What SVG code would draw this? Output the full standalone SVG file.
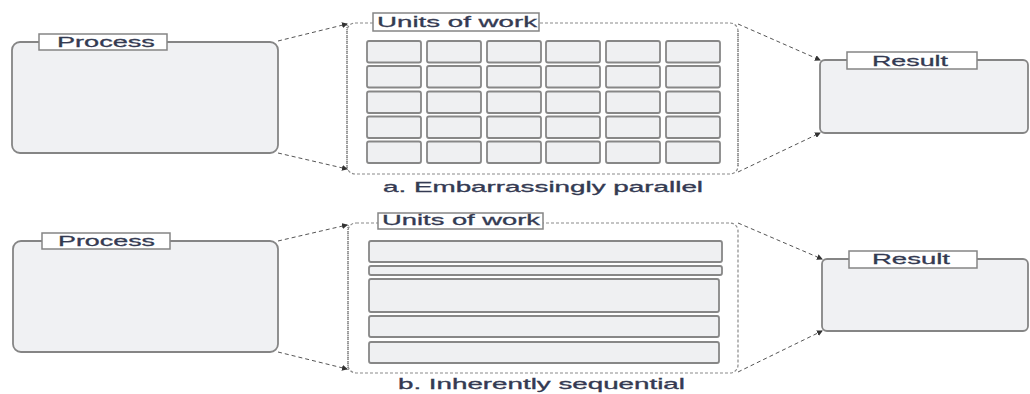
<svg xmlns="http://www.w3.org/2000/svg" width="1030" height="394" viewBox="0 0 1030 394">
<style>
.box{fill:#f0f1f3;stroke:#858585;stroke-width:1.8}
.lbl{fill:#ffffff;stroke:#858585;stroke-width:1.5}
.cell{fill:#eff0f2;stroke:#878787;stroke-width:1.8}
.cont{fill:none;stroke:#8a8a8a;stroke-width:1.2;stroke-dasharray:3 2}
.side{fill:none;stroke:#8a8a8a;stroke-width:1.6;stroke-dasharray:1 1}
.conn{fill:none;stroke:#555;stroke-width:1;stroke-dasharray:4 3}
.t{font-family:"Liberation Sans",Arial,sans-serif;font-size:15px;fill:#343a52;stroke:#343a52;stroke-width:0.3}
.cap{font-family:"Liberation Sans",Arial,sans-serif;font-size:14px;fill:#343a52;stroke:#343a52;stroke-width:0.3}
</style>
<defs>
<marker id="ah" markerWidth="6" markerHeight="6" refX="5" refY="3" orient="auto" markerUnits="userSpaceOnUse">
<path d="M0,0 L6,3 L0,6 z" fill="#333"/>
</marker>
</defs>

<g id="connectors">
<path class="conn" d="M278,41 L347,24" marker-end="url(#ah)"/>
<path class="conn" d="M278,153 L347,169" marker-end="url(#ah)"/>
<path class="conn" d="M738,24 L820,60" marker-end="url(#ah)"/>
<path class="conn" d="M738,172 L820,133" marker-end="url(#ah)"/>
<path class="conn" d="M278,241 L347,225" marker-end="url(#ah)"/>
<path class="conn" d="M278,352 L347,369" marker-end="url(#ah)"/>
<path class="conn" d="M738,223 L822,259" marker-end="url(#ah)"/>
<path class="conn" d="M738,372 L822,331" marker-end="url(#ah)"/>
</g>

<g id="process-a">
<rect class="box" x="12" y="42" width="266" height="111" rx="8"/>
<rect class="lbl" x="39" y="34" width="128" height="16"/>
<text class="t" transform="translate(57,46.5) scale(1.8,1)" textLength="54.4" lengthAdjust="spacingAndGlyphs">Process</text>
</g>

<g id="units-a">
<rect class="cont" x="347" y="23" width="391" height="151" rx="8"/>
<line class="side" x1="347" y1="25" x2="347" y2="171"/>
<line class="side" x1="738" y1="31" x2="738" y2="166"/>
<rect class="lbl" x="373" y="13" width="166" height="18"/>
<text class="t" transform="translate(377,27) scale(1.8,1)" textLength="88.9" lengthAdjust="spacingAndGlyphs">Units of work</text>
<g id="grid-a">
<rect class="cell" x="367" y="41" width="54" height="21.5" rx="2"/>
<rect class="cell" x="427" y="41" width="54" height="21.5" rx="2"/>
<rect class="cell" x="487" y="41" width="54" height="21.5" rx="2"/>
<rect class="cell" x="546" y="41" width="54" height="21.5" rx="2"/>
<rect class="cell" x="606" y="41" width="54" height="21.5" rx="2"/>
<rect class="cell" x="666" y="41" width="54" height="21.5" rx="2"/>
<rect class="cell" x="367" y="66" width="54" height="21.5" rx="2"/>
<rect class="cell" x="427" y="66" width="54" height="21.5" rx="2"/>
<rect class="cell" x="487" y="66" width="54" height="21.5" rx="2"/>
<rect class="cell" x="546" y="66" width="54" height="21.5" rx="2"/>
<rect class="cell" x="606" y="66" width="54" height="21.5" rx="2"/>
<rect class="cell" x="666" y="66" width="54" height="21.5" rx="2"/>
<rect class="cell" x="367" y="91.5" width="54" height="21.5" rx="2"/>
<rect class="cell" x="427" y="91.5" width="54" height="21.5" rx="2"/>
<rect class="cell" x="487" y="91.5" width="54" height="21.5" rx="2"/>
<rect class="cell" x="546" y="91.5" width="54" height="21.5" rx="2"/>
<rect class="cell" x="606" y="91.5" width="54" height="21.5" rx="2"/>
<rect class="cell" x="666" y="91.5" width="54" height="21.5" rx="2"/>
<rect class="cell" x="367" y="116.5" width="54" height="21.5" rx="2"/>
<rect class="cell" x="427" y="116.5" width="54" height="21.5" rx="2"/>
<rect class="cell" x="487" y="116.5" width="54" height="21.5" rx="2"/>
<rect class="cell" x="546" y="116.5" width="54" height="21.5" rx="2"/>
<rect class="cell" x="606" y="116.5" width="54" height="21.5" rx="2"/>
<rect class="cell" x="666" y="116.5" width="54" height="21.5" rx="2"/>
<rect class="cell" x="367" y="141.5" width="54" height="21.5" rx="2"/>
<rect class="cell" x="427" y="141.5" width="54" height="21.5" rx="2"/>
<rect class="cell" x="487" y="141.5" width="54" height="21.5" rx="2"/>
<rect class="cell" x="546" y="141.5" width="54" height="21.5" rx="2"/>
<rect class="cell" x="606" y="141.5" width="54" height="21.5" rx="2"/>
<rect class="cell" x="666" y="141.5" width="54" height="21.5" rx="2"/>
</g>
<text class="cap" transform="translate(383,192) scale(1.8,1)" textLength="177.8" lengthAdjust="spacingAndGlyphs">a. Embarrassingly parallel</text>
</g>

<g id="result-a">
<rect class="box" x="820" y="60" width="208" height="73" rx="5"/>
<rect class="lbl" x="847" y="52" width="130" height="17"/>
<text class="t" transform="translate(872,65.5) scale(1.8,1)" textLength="42.2" lengthAdjust="spacingAndGlyphs">Result</text>
</g>

<g id="process-b">
<rect class="box" x="13" y="241" width="265" height="111" rx="8"/>
<rect class="lbl" x="42" y="233" width="128" height="16"/>
<text class="t" transform="translate(58,245.5) scale(1.8,1)" textLength="53.9" lengthAdjust="spacingAndGlyphs">Process</text>
</g>

<g id="units-b">
<rect class="cont" x="348" y="223" width="390" height="150" rx="8"/>
<line class="side" x1="348" y1="225" x2="348" y2="370"/>
<rect class="lbl" x="378" y="213" width="165" height="16"/>
<text class="t" transform="translate(382,225) scale(1.8,1)" textLength="87.8" lengthAdjust="spacingAndGlyphs">Units of work</text>
<g id="bars-b">
<rect class="cell" x="369" y="241" width="353" height="21" rx="2"/>
<rect class="cell" x="369" y="266" width="353" height="9" rx="2"/>
<rect class="cell" x="369" y="279" width="350" height="33" rx="2"/>
<rect class="cell" x="369" y="316" width="350" height="21" rx="2"/>
<rect class="cell" x="369" y="342" width="350" height="21" rx="2"/>
</g>
<text class="cap" transform="translate(398,389) scale(1.8,1)" textLength="159.4" lengthAdjust="spacingAndGlyphs">b. Inherently sequential</text>
</g>

<g id="result-b">
<rect class="box" x="822" y="259" width="206" height="72" rx="5"/>
<rect class="lbl" x="849" y="251" width="128" height="17"/>
<text class="t" transform="translate(872,264) scale(1.8,1)" textLength="43.3" lengthAdjust="spacingAndGlyphs">Result</text>
</g>
</svg>
